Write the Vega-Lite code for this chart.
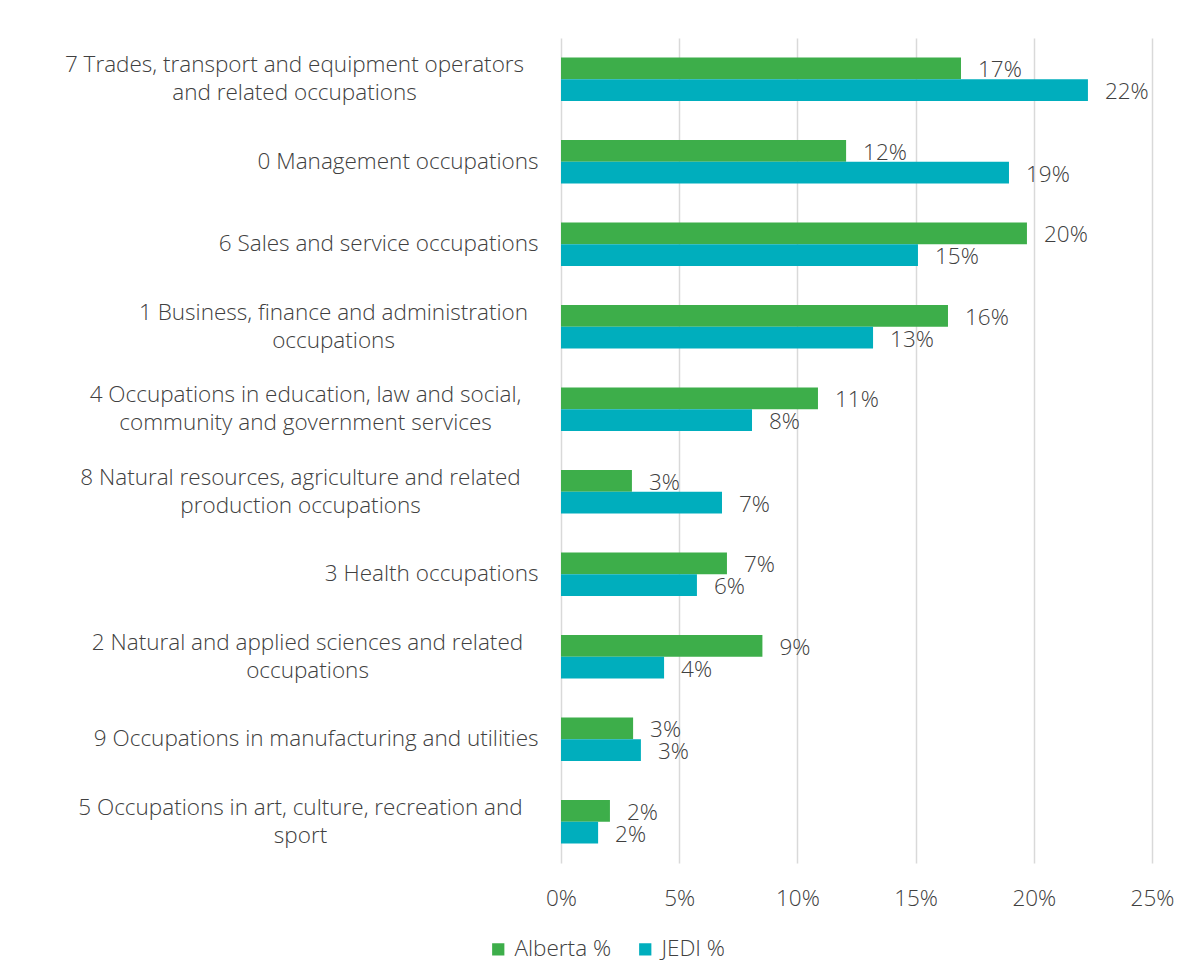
{
  "$schema": "https://vega.github.io/schema/vega-lite/v6.json",
  "autosize": {"type": "none"},
  "width": 591,
  "height": 825,
  "padding": {"left": 561, "top": 38, "right": 44, "bottom": 115},
  "background": "white",
  "config": {
    "font": "Open Sans",
    "view": {"stroke": null},
    "axis": {"labelFont": "Open Sans", "labelFontWeight": 300, "labelColor": "#404040", "labelFontSize": 22.5},
    "legend": {"labelFont": "Open Sans", "labelFontWeight": 300, "labelColor": "#404040", "labelFontSize": 22.5}
  },
  "data": {"values": [
    {"category": "7 Trades, transport and equipment operators|and related occupations", "series": "Alberta %", "value": 0.1692},
    {"category": "7 Trades, transport and equipment operators|and related occupations", "series": "JEDI %", "value": 0.2229},
    {"category": "0 Management occupations", "series": "Alberta %", "value": 0.1206},
    {"category": "0 Management occupations", "series": "JEDI %", "value": 0.1895},
    {"category": "6 Sales and service occupations", "series": "Alberta %", "value": 0.1971},
    {"category": "6 Sales and service occupations", "series": "JEDI %", "value": 0.151},
    {"category": "1 Business, finance and administration|occupations", "series": "Alberta %", "value": 0.1637},
    {"category": "1 Business, finance and administration|occupations", "series": "JEDI %", "value": 0.132},
    {"category": "4 Occupations in education, law and social,|community and government services", "series": "Alberta %", "value": 0.1087},
    {"category": "4 Occupations in education, law and social,|community and government services", "series": "JEDI %", "value": 0.0808},
    {"category": "8 Natural resources, agriculture and related|production occupations", "series": "Alberta %", "value": 0.03},
    {"category": "8 Natural resources, agriculture and related|production occupations", "series": "JEDI %", "value": 0.0681},
    {"category": "3 Health occupations", "series": "Alberta %", "value": 0.0702},
    {"category": "3 Health occupations", "series": "JEDI %", "value": 0.0575},
    {"category": "2 Natural and applied sciences and related|occupations", "series": "Alberta %", "value": 0.0852},
    {"category": "2 Natural and applied sciences and related|occupations", "series": "JEDI %", "value": 0.0436},
    {"category": "9 Occupations in manufacturing and utilities", "series": "Alberta %", "value": 0.0305},
    {"category": "9 Occupations in manufacturing and utilities", "series": "JEDI %", "value": 0.0338},
    {"category": "5 Occupations in art, culture, recreation and|sport", "series": "Alberta %", "value": 0.0207},
    {"category": "5 Occupations in art, culture, recreation and|sport", "series": "JEDI %", "value": 0.0157}
  ]},
  "encoding": {
    "y": {
      "field": "category", "type": "nominal", "sort": null,
      "scale": {"paddingInner": 0.475, "paddingOuter": 0.2375},
      "axis": {
        "title": null, "ticks": false, "domain": false, "grid": false,
        "labelLimit": 700, "labelLineHeight": 28,
        "labelExpr": "split(datum.label, '|')",
        "labelAlign": {"condition": {"test": "indexof(datum.value, '|') >= 0", "value": "center"}, "value": "right"},
        "labelOffset": {"condition": {"test": "indexof(datum.value, '|') >= 0", "value": -14}, "value": 0},
        "labelPadding": {"condition": [
          {"test": "indexof(datum.value, '7 Trades') == 0", "value": 267},
          {"test": "indexof(datum.value, '1 Business') == 0", "value": 228},
          {"test": "indexof(datum.value, '4 Occ') == 0", "value": 256},
          {"test": "indexof(datum.value, '8 Natural') == 0", "value": 261},
          {"test": "indexof(datum.value, '2 Natural') == 0", "value": 254},
          {"test": "indexof(datum.value, '5 Occ') == 0", "value": 261}
        ], "value": 23}
      }
    },
    "yOffset": {"field": "series", "type": "nominal", "sort": ["Alberta %", "JEDI %"], "scale": {"paddingInner": 0, "paddingOuter": 0}},
    "x": {
      "field": "value", "type": "quantitative",
      "scale": {"domain": [0, 0.25], "nice": false},
      "axis": {
        "title": null, "format": ".0%", "values": [0, 0.05, 0.1, 0.15, 0.2, 0.25],
        "ticks": false, "domain": false, "labelPadding": 24,
        "gridColor": "#d9d9d9", "gridWidth": 1.5, "labelFlush": false
      }
    }
  },
  "layer": [
    {
      "mark": {"type": "bar", "cornerRadius": 0},
      "encoding": {
        "color": {
          "field": "series", "type": "nominal",
          "scale": {"domain": ["Alberta %", "JEDI %"], "range": ["#3DAE4A", "#00AEBD"]},
          "legend": {
            "title": null, "orient": "none", "direction": "horizontal",
            "legendX": -74, "legendY": 900,
            "symbolType": "square", "symbolSize": 150, "symbolStrokeWidth": 0,
            "columnPadding": 22, "labelOffset": 5
          }
        }
      }
    },
    {
      "mark": {"type": "text", "align": "left", "baseline": "middle", "dx": 17, "dy": 2, "font": "Open Sans", "fontWeight": 300, "fontSize": 22.5, "color": "#404040"},
      "encoding": {"text": {"field": "value", "type": "quantitative", "format": ".0%"}}
    }
  ]
}
